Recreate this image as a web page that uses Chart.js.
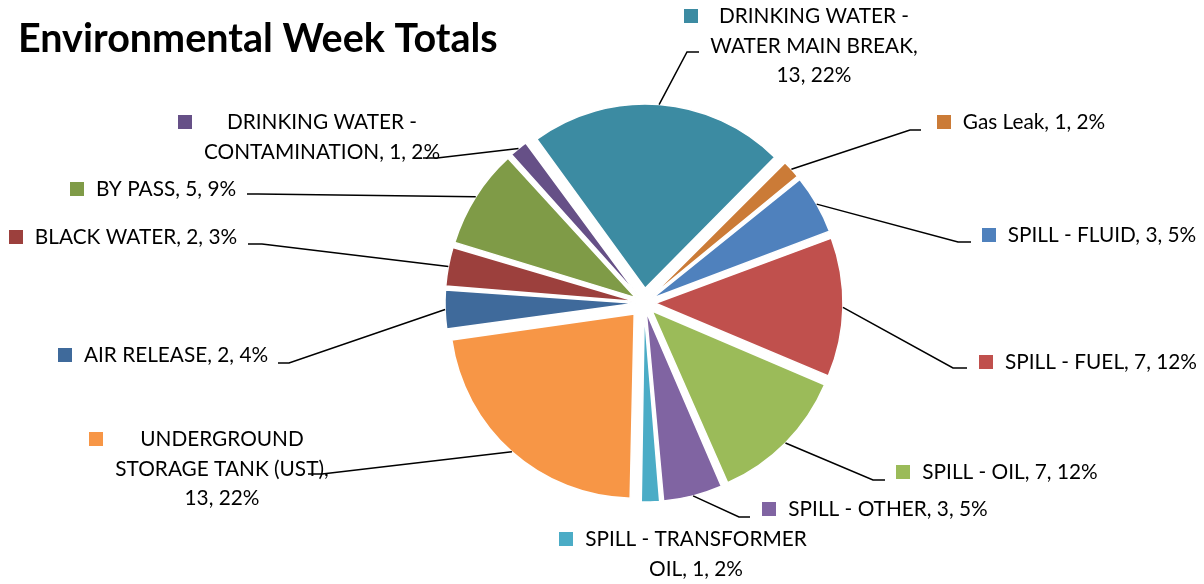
<!DOCTYPE html>
<html>
<head>
<meta charset="utf-8">
<script src="https://cdn.jsdelivr.net/npm/chart.js@4.4.1/dist/chart.umd.min.js"></script>
<style>
  html, body { margin: 0; padding: 0; background: #fff; }
</style>
</head>
<body>
<canvas id="chart" width="1204" height="584"></canvas>
<script>
var title = 'Environmental Week Totals';

var categories = [
  'DRINKING WATER - WATER MAIN BREAK', 'Gas Leak', 'SPILL - FLUID', 'SPILL - FUEL',
  'SPILL - OIL', 'SPILL - OTHER', 'SPILL - TRANSFORMER OIL', 'UNDERGROUND STORAGE TANK (UST)',
  'AIR RELEASE', 'BLACK WATER', 'BY PASS', 'DRINKING WATER - CONTAMINATION'
];
var counts = [13, 1, 3, 7, 7, 3, 1, 13, 2, 2, 5, 1];
var percents = [22, 2, 5, 12, 12, 5, 2, 22, 4, 3, 9, 2];

var colors = [
  '#3C8BA2', '#CB7B37', '#4F81BD', '#C0504D', '#9BBB59', '#8064A2',
  '#4BACC6', '#F79646', '#3F6A9B', '#9C403D', '#7F9B47', '#665087'
];

// label placement: cx = centre of text block, y = middle of first line,
// wrap = max line width, elbow/tail = leader line bend and end (null -> no leader)
var labelLayout = [
  { cx: 814, y: 16, wrap: 218, elbow: [687, 52], tail: 699 },
  { cx: 1034, y: 122, wrap: 400, elbow: [910, 130], tail: 921 },
  { cx: 1102, y: 235, wrap: 400, elbow: [958, 242], tail: 971 },
  { cx: 1101, y: 362, wrap: 400, elbow: [953, 368], tail: 967 },
  { cx: 1010, y: 472, wrap: 400, elbow: [873, 480], tail: 885 },
  { cx: 888, y: 509, wrap: 400, elbow: [739, 517], tail: 750 },
  { cx: 696, y: 539, wrap: 240, elbow: null },
  { cx: 222, y: 439, wrap: 228, elbow: [322, 474], tail: 308 },
  { cx: 176, y: 355, wrap: 400, elbow: [289, 363], tail: 278 },
  { cx: 136, y: 237, wrap: 400, elbow: [262, 244], tail: 248 },
  { cx: 166, y: 189, wrap: 400, elbow: [258, 194], tail: 247 },
  { cx: 322, y: 122, wrap: 252, elbow: [437, 158], tail: 423 }
];

var EXPLODE = 15;     // px each slice is pulled out
var LINE_H = 29.5;
var total = counts.reduce(function (a, b) { return a + b; }, 0);

function wrapText(ctx, text, width) {
  var words = text.split(' '), lines = [], cur = '';
  words.forEach(function (w) {
    var test = cur ? cur + ' ' + w : w;
    if (cur && ctx.measureText(test).width > width) { lines.push(cur); cur = w; }
    else cur = test;
  });
  lines.push(cur);
  return lines;
}

var labelPlugin = {
  id: 'sliceLabels',
  afterDraw: function (chart) {
    var ctx = chart.ctx;
    ctx.save();

    // title, squeezed to the width it has in the original
    ctx.fillStyle = '#000';
    ctx.textAlign = 'left';
    ctx.textBaseline = 'alphabetic';
    ctx.font = 'bold 36px Lato';
    var size = 36 * 479 / ctx.measureText(title).width;
    ctx.font = 'bold ' + size.toFixed(1) + 'px Lato';
    ctx.fillText(title, 18, 52);

    var arcs = chart.getDatasetMeta(0).data;
    ctx.font = '20.8px Lato';
    ctx.lineWidth = 1.5;
    ctx.strokeStyle = '#000';
    arcs.forEach(function (arc, i) {
      var lay = labelLayout[i];
      var p = arc.getProps(['x', 'y', 'startAngle', 'endAngle', 'outerRadius'], true);
      var mid = (p.startAngle + p.endAngle) / 2;
      var r = p.outerRadius + EXPLODE;

      if (lay.elbow) {
        ctx.beginPath();
        ctx.moveTo(p.x + Math.cos(mid) * r, p.y + Math.sin(mid) * r);
        ctx.lineTo(lay.elbow[0], lay.elbow[1]);
        ctx.lineTo(lay.tail, lay.elbow[1]);
        ctx.stroke();
      }

      var text = categories[i] + ', ' + counts[i] + ', ' + percents[i] + '%';
      var lines = wrapText(ctx, text, lay.wrap);
      var boxW = Math.max.apply(null, lines.map(function (l) { return ctx.measureText(l).width; }));
      ctx.fillStyle = '#000';
      ctx.textAlign = 'center';
      lines.forEach(function (l, k) {
        ctx.fillText(l, lay.cx, lay.y + 7 + k * LINE_H);
      });
      ctx.fillStyle = colors[i];
      ctx.fillRect(Math.round(lay.cx - boxW / 2 - 26), Math.round(lay.y - 7), 14, 14);
    });
    ctx.restore();
  }
};

var chart = new Chart(document.getElementById('chart'), {
  type: 'pie',
  data: {
    labels: categories,
    datasets: [{
      data: counts,
      backgroundColor: colors,
      borderColor: '#fff',
      borderWidth: 1.5,
      // chart.js shrinks the pull-out of wide slices, so even it out per slice
      offset: function (c) {
        var circ = counts[c.dataIndex] / total * 2 * Math.PI;
        var fix = 1 - Math.sin(Math.min(Math.PI, circ));
        return 4 * EXPLODE / (1 + fix);
      }
    }]
  },
  options: {
    responsive: false,
    animation: false,
    rotation: -36,
    radius: 184,
    layout: { padding: { top: 110, bottom: 88, left: 300, right: 216 } },
    plugins: {
      legend: { display: false },
      tooltip: { enabled: false }
    }
  },
  plugins: [labelPlugin]
});
</script>
</body>
</html>
